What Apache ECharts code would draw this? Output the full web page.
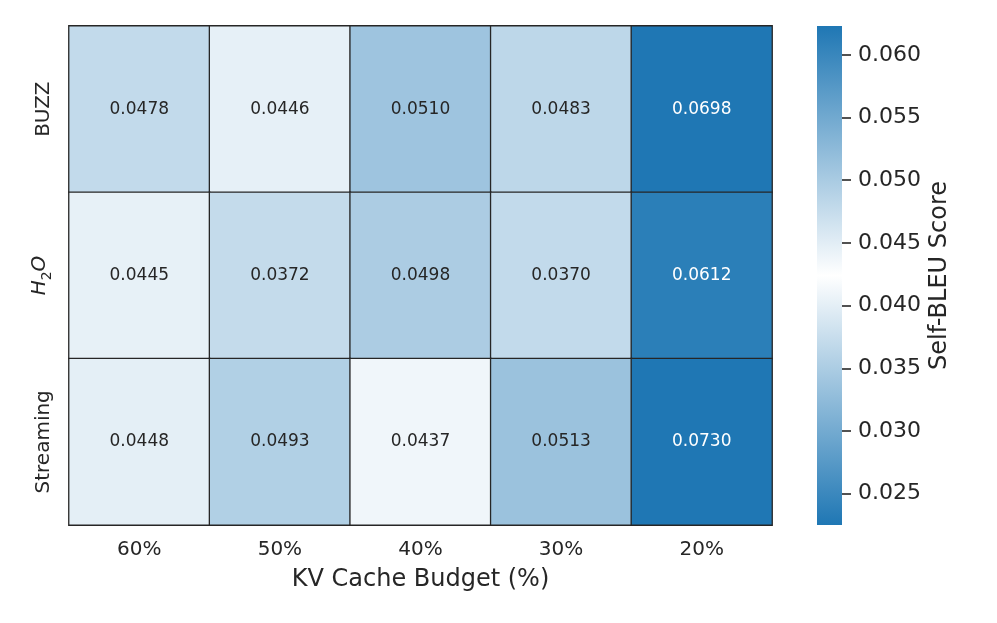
<!DOCTYPE html>
<html><head><meta charset="utf-8">
<script src="https://cdn.jsdelivr.net/npm/echarts@6/dist/echarts.min.js"></script>
<style>html,body{margin:0;padding:0;background:#fff}#c{width:997px;height:623px}</style>
</head><body><div id="c"></div>
<script>
const budgets = ['60%', '50%', '40%', '30%', '20%'];
const methods = ['BUZZ', 'H2O', 'Streaming'];
const buzzVals = [0.0478, 0.0446, 0.0510, 0.0483, 0.0698];
const h2oVals = [0.0445, 0.0372, 0.0498, 0.0370, 0.0612];
const streamingVals = [0.0448, 0.0493, 0.0437, 0.0513, 0.0730];
const colorMin = 0.0225;
const colorMax = 0.0623;
const colorTicks = [0.025, 0.030, 0.035, 0.040, 0.045, 0.050, 0.055, 0.060];

const rows = [buzzVals, h2oVals, streamingVals];
const data = [];
rows.forEach((vals, r) => vals.forEach((v, c) => {
  data.push({value: [c, r, v], label: {color: v > 0.058 ? '#ffffff' : '#262626'}});
}));

const chart = echarts.init(document.getElementById('c'), null, {renderer: 'canvas'});
const FONT = 'DejaVu Sans';
const TXT = '#262626';
chart.setOption({
  backgroundColor: '#fff',
  textStyle: {fontFamily: FONT},
  animation: false,
  grid: [
    {left: 69, top: 26, width: 703, height: 499},
    {left: 817, top: 26, width: 25, height: 499}
  ],
  xAxis: [
    {type: 'category', gridIndex: 0, data: budgets,
     axisLine: {show: false}, axisTick: {show: false}, splitLine: {show: false},
     axisLabel: {fontSize: 20, color: TXT, margin: 15, fontFamily: FONT, interval: 0},
     name: 'KV Cache Budget (%)', nameLocation: 'middle', nameGap: 43,
     nameTextStyle: {fontSize: 24, color: TXT, fontFamily: FONT}},
    {type: 'category', gridIndex: 1, data: ['cb'], show: false}
  ],
  yAxis: [
    {type: 'category', gridIndex: 0, data: methods, inverse: true,
     axisLine: {show: false}, axisTick: {show: false}, splitLine: {show: false},
     axisLabel: {fontSize: 20, color: TXT, rotate: 90, margin: 15, fontFamily: FONT, interval: 0,
       formatter: v => v === 'H2O' ? '{it|H}{sub|2}{it|O}' : v,
       rich: {it: {fontStyle: 'italic', fontSize: 20, color: TXT, fontFamily: FONT, lineHeight: 28, verticalAlign: 'middle'},
              sub: {fontSize: 14, color: TXT, fontFamily: FONT, lineHeight: 14, verticalAlign: 'bottom'}}}},
    {type: 'value', gridIndex: 1, min: colorMin, max: colorMax, position: 'right',
     axisLine: {show: false}, splitLine: {show: false},
     axisTick: {show: true, length: 9, lineStyle: {color: TXT, width: 1.6}, customValues: colorTicks},
     axisLabel: {fontSize: 22, color: TXT, margin: 16, fontFamily: FONT, customValues: colorTicks,
       formatter: v => Number(v).toFixed(3)},
     name: 'Self-BLEU Score', nameLocation: 'middle', nameGap: 86, nameRotate: 90,
     nameTextStyle: {fontSize: 24, color: TXT, fontFamily: FONT}}
  ],
  visualMap: {show: false, seriesIndex: 0, min: colorMin, max: colorMax, dimension: 2,
    inRange: {color: ['#1f77b4', '#ffffff', '#1f77b4']}},
  series: [
    {type: 'heatmap', xAxisIndex: 0, yAxisIndex: 0, data: data,
     itemStyle: {borderColor: '#262626', borderWidth: 1.3},
     label: {show: true, fontSize: 17, fontFamily: FONT, formatter: p => p.value[2].toFixed(4)},
     emphasis: {disabled: true}},
    {type: 'custom', xAxisIndex: 1, yAxisIndex: 1, silent: true,
     data: [[0, colorMin, colorMax]],
     renderItem: (params, api) => {
       const top = api.coord([0, api.value(2)]);
       const bot = api.coord([0, api.value(1)]);
       const w = api.size([1, 0])[0];
       return {type: 'rect',
         shape: {x: top[0] - w / 2, y: top[1], width: w, height: bot[1] - top[1]},
         style: {fill: new echarts.graphic.LinearGradient(0, 0, 0, 1, [
           {offset: 0, color: '#1f77b4'}, {offset: 0.5, color: '#ffffff'}, {offset: 1, color: '#1f77b4'}])}};
     }}
  ]
});
</script></body></html>
